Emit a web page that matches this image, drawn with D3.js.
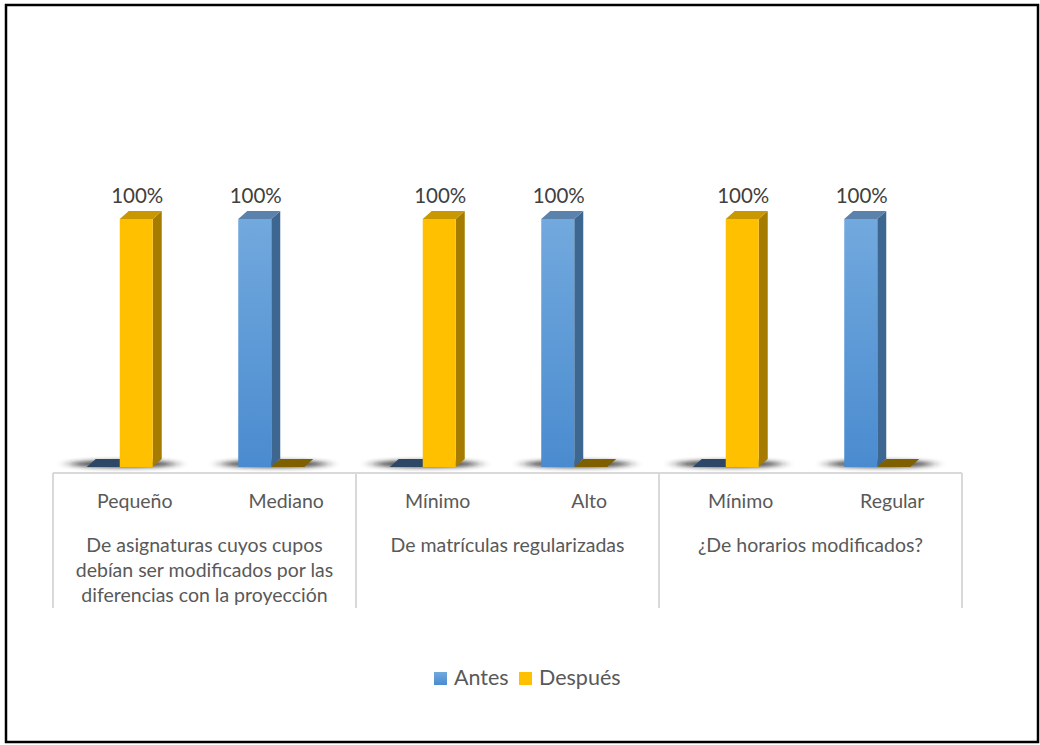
<!DOCTYPE html>
<html>
<head>
<meta charset="utf-8">
<script src="https://cdn.jsdelivr.net/npm/d3@7/dist/d3.min.js"></script>
<style>
  html, body { margin: 0; padding: 0; background: #fff; }
  svg { display: block; font-family: Lato, "Open Sans", sans-serif; }
</style>
</head>
<body>
<svg id="chart" width="1040" height="745"></svg>
<script>
// Survey results: share of answers before and after, per item
const categories = ["Pequeño", "Mediano", "Mínimo", "Alto", "Mínimo", "Regular"];
const groups = [
  "De asignaturas cuyos cupos debían ser modificados por las diferencias con la proyección",
  "De matrículas regularizadas",
  "¿De horarios modificados?"
];
const seriesNames = ["Antes", "Después"];
const antes = [0, 1, 0, 1, 0, 1];
const despues = [1, 0, 1, 0, 1, 0];

const palette = {
  "Antes":   { front0: "#72a9de", front1: "#4a8bcf", side: "#3d6690", top: "#5b82ad", flat: "#2d4866" },
  "Después": { front0: "#ffc000", front1: "#ffc000", side: "#a67c00", top: "#c99700", flat: "#7f6000" }
};

const svg = d3.select("#chart");

// outer frame
svg.append("rect")
  .attr("x", 6).attr("y", 5).attr("width", 1032).attr("height", 737)
  .attr("fill", "#fff").attr("stroke", "#000").attr("stroke-width", 2.5);

const defs = svg.append("defs");
const blur = defs.append("filter").attr("id", "floorShadow")
  .attr("x", "-50%").attr("y", "-400%").attr("width", "200%").attr("height", "900%");
blur.append("feGaussianBlur").attr("stdDeviation", "7 2");

const gradBlue = defs.append("linearGradient").attr("id", "gradAntes")
  .attr("x1", 0).attr("y1", 0).attr("x2", 0).attr("y2", 1);
gradBlue.append("stop").attr("offset", "0%").attr("stop-color", palette["Antes"].front0);
gradBlue.append("stop").attr("offset", "100%").attr("stop-color", palette["Antes"].front1);
const gradYel = defs.append("linearGradient").attr("id", "gradDespues")
  .attr("x1", 0).attr("y1", 0).attr("x2", 0).attr("y2", 1);
gradYel.append("stop").attr("offset", "0%").attr("stop-color", palette["Después"].front0);
gradYel.append("stop").attr("offset", "100%").attr("stop-color", palette["Después"].front1);
const fillId = { "Antes": "url(#gradAntes)", "Después": "url(#gradDespues)" };

// scales
const plotLeft = 53, plotRight = 962;
const x = d3.scaleBand().domain(d3.range(categories.length)).range([plotLeft, plotRight]).padding(0);
const pairWidth = 66, pairShift = -9;
const xs = d3.scaleBand().domain(seriesNames).range([0, pairWidth]).padding(0);
const y = d3.scaleLinear().domain([0, 1]).range([467, 219]);
const depthX = 9, depthY = -8;

const rows = categories.map((c, i) => ({ i, cat: c, values: { "Antes": antes[i], "Después": despues[i] } }));

// floor shadows under each pair
svg.append("g").selectAll("ellipse").data(rows).join("ellipse")
  .attr("cx", d => x(d.i) + x.bandwidth() / 2 + pairShift + 3)
  .attr("cy", 464)
  .attr("rx", 54).attr("ry", 3.5)
  .attr("fill", "#222").attr("opacity", 0.85)
  .attr("filter", "url(#floorShadow)");

// 3D columns
const barsG = svg.append("g");
rows.forEach(r => {
  const pairX = x(r.i) + x.bandwidth() / 2 - pairWidth / 2 + pairShift;
  seriesNames.forEach(s => {
    const v = r.values[s];
    const x0 = pairX + xs(s), w = xs.bandwidth();
    const y0 = y(0), y1 = y(v);
    const col = palette[s];
    const g = barsG.append("g");
    if (v === 0) {
      g.append("path")
        .attr("d", `M${x0},${y0} L${x0 + w},${y0} L${x0 + w + depthX},${y0 + depthY} L${x0 + depthX},${y0 + depthY} Z`)
        .attr("fill", col.flat);
      return;
    }
    // side face
    g.append("path")
      .attr("d", `M${x0 + w},${y1} L${x0 + w + depthX},${y1 + depthY} L${x0 + w + depthX},${y0 + depthY} L${x0 + w},${y0} Z`)
      .attr("fill", col.side);
    // top face
    g.append("path")
      .attr("d", `M${x0},${y1} L${x0 + depthX},${y1 + depthY} L${x0 + w + depthX},${y1 + depthY} L${x0 + w},${y1} Z`)
      .attr("fill", col.top);
    // front face
    g.append("rect")
      .attr("x", x0).attr("y", y1).attr("width", w).attr("height", y0 - y1)
      .attr("fill", fillId[s]);
    // value label
    g.append("text")
      .attr("x", x0 + w / 2 + 1).attr("y", y1 - 16)
      .attr("text-anchor", "middle")
      .attr("font-size", 20.5).attr("fill", "#404040")
      .text(d3.format(".0%")(v));
  });
});

// category axis with grouped labels
const axisG = svg.append("g").attr("stroke", "#d9d9d9").attr("stroke-width", 2);
axisG.append("line").attr("x1", plotLeft).attr("x2", plotRight).attr("y1", 473).attr("y2", 473);
const bounds = [0, 2, 4, 6].map(k => k < categories.length ? x(k) : plotRight);
axisG.selectAll(".sep").data(bounds).join("line")
  .attr("x1", d => d).attr("x2", d => d).attr("y1", 473).attr("y2", 608);

svg.append("g").selectAll("text").data(rows).join("text")
  .attr("x", d => x(d.i) + x.bandwidth() / 2 + 6)
  .attr("y", 508)
  .attr("text-anchor", "middle")
  .attr("font-size", 19.5).attr("fill", "#595959")
  .text(d => d.cat);

function wrapLines(text, maxW, size) {
  const probe = svg.append("text").attr("font-size", size).attr("visibility", "hidden");
  const words = text.split(" ");
  const lines = [];
  let cur = "";
  words.forEach(wd => {
    const t = cur ? cur + " " + wd : wd;
    probe.text(t);
    if (probe.node().getComputedTextLength() > maxW && cur) { lines.push(cur); cur = wd; }
    else cur = t;
  });
  if (cur) lines.push(cur);
  probe.remove();
  return lines;
}

groups.forEach((gname, gi) => {
  const cx = (bounds[gi] + bounds[gi + 1]) / 2;
  const lines = wrapLines(gname, 280, 19.5);
  const t = svg.append("text")
    .attr("text-anchor", "middle")
    .attr("font-size", 19.5).attr("fill", "#595959");
  lines.forEach((ln, li) => {
    t.append("tspan").attr("x", cx).attr("y", 552 + li * 25).text(ln);
  });
});

// legend
const legend = svg.append("g");
const legendItems = [
  { name: "Antes", x: 434, fill: "url(#gradAntes)" },
  { name: "Después", x: 519, fill: "#ffc000" }
];
legendItems.forEach(it => {
  legend.append("rect").attr("x", it.x).attr("y", 672).attr("width", 13).attr("height", 13)
    .attr("fill", it.fill);
  legend.append("text").attr("x", it.x + 20).attr("y", 685)
    .attr("font-size", 21.5).attr("fill", "#595959").text(it.name);
});
</script>
</body>
</html>
